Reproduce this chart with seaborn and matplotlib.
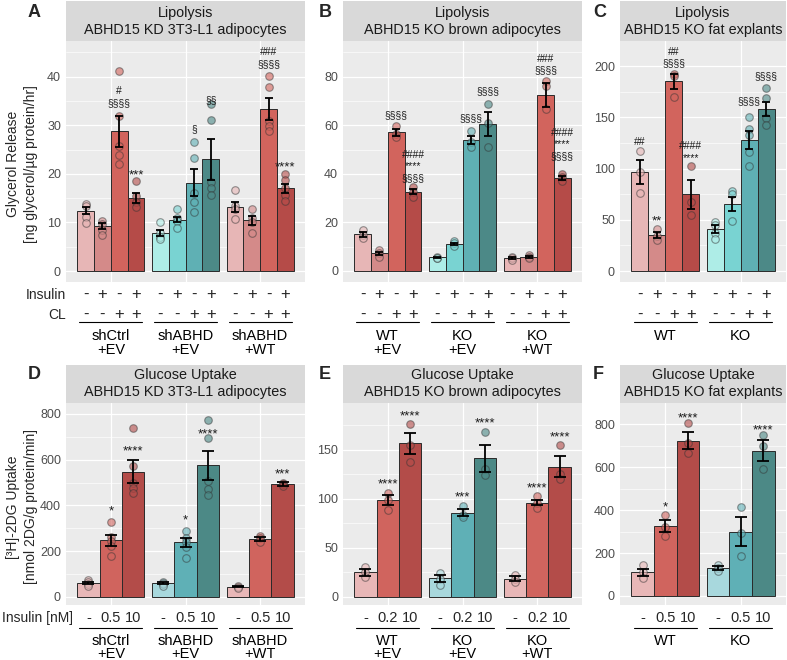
import numpy as np
import pandas as pd
import matplotlib
matplotlib.use("Agg")
import matplotlib.pyplot as plt
import seaborn as sns
from matplotlib.transforms import blended_transform_factory, offset_copy
from matplotlib.lines import Line2D
from matplotlib.ticker import MultipleLocator
from matplotlib.colors import to_rgba

sns.set_style("white")
plt.rcParams['font.family'] = ['Liberation Sans', 'DejaVu Sans']

# ---------------- data ----------------
lip_conds = ["Ins-CL-", "Ins+CL-", "Ins-CL+", "Ins+CL+"]
lip_insulin = ["-", "+", "-", "+"]
lip_cl = ["-", "-", "+", "+"]
glu_conds = ["0", "low", "10"]

A_title = ["Lipolysis", "ABHD15 KD 3T3-L1 adipocytes"]
A_groups = ["shCtrl\n+EV", "shABHD\n+EV", "shABHD\n+WT"]
A_family = ["red", "teal", "red"]
A_mean = [[12.4, 9.3, 28.8, 15.1], [7.8, 10.6, 18.2, 23.0], [13.2, 10.4, 33.3, 17.0]]
A_se = [[0.7, 0.6, 3.2, 1.0], [0.6, 0.6, 2.8, 4.2], [1.1, 0.9, 2.3, 1.0]]
A_pts = [[[13.8, 13.3, 11.2, 9.9], [10.2, 9.6, 8.4, 7.4], [41.2, 32.0, 25.8, 23.8, 22.0], [18.5, 15.4, 14.3, 13.2]],
         [[10.1, 7.9, 7.1, 6.5], [12.7, 10.9, 10.2, 8.8], [26.5, 23.2, 16.0, 14.3, 12.1], [34.4, 31.1, 18.4, 17.0, 15.6]],
         [[16.7, 13.3, 12.8, 10.7], [12.7, 11.0, 10.0, 7.8], [40.2, 37.8, 30.8, 29.8, 28.9], [20.0, 18.7, 17.0, 15.6, 14.4]]]
A_sig = [[None, None, "#\n§§§§", "***"], [None, None, "§", "§§"], [None, None, "###\n§§§§", "****"]]
A_sig_y = [[None, None, 34.6, 20.6], [None, None, 29.2, 35.2], [None, None, 42.6, 22.2]]

B_title = ["Lipolysis", "ABHD15 KO brown adipocytes"]
B_groups = ["WT\n+EV", "KO\n+EV", "KO\n+WT"]
B_family = ["red", "teal", "red"]
B_mean = [[15.1, 7.3, 57.1, 32.7], [5.6, 11.1, 53.9, 60.4], [5.3, 5.8, 72.4, 38.2]]
B_se = [[1.0, 0.6, 1.4, 1.0], [0.3, 0.5, 1.7, 5.0], [0.4, 0.3, 5.0, 0.8]]
B_pts = [[[16.9, 14.8, 13.5], [8.6, 7.3, 5.9], [59.8, 56.5, 55.3], [34.7, 32.7, 30.6]],
         [[5.9, 5.5, 5.2], [12.5, 11.4, 10.3], [57.6, 53.2, 51.1], [68.8, 61.1, 51.2]],
         [[5.8, 5.3, 4.7], [6.6, 5.8, 5.2], [78.2, 76.2, 66.5], [40.0, 38.8, 37.2]]]
B_sig = [[None, None, "§§§§", "####\n****\n§§§§"], [None, None, "§§§§", "§§§§"],
         [None, None, "###\n§§§§", "####\n****\n§§§§"]]
B_sig_y = [[None, None, 64.2, 38.3], [None, None, 63.0, 73.8], [None, None, 82.5, 47.3]]

C_title = ["Lipolysis", "ABHD15 KO fat explants"]
C_groups = ["WT", "KO"]
C_family = ["red", "teal"]
C_mean = [[96.5, 35.1, 185.0, 74.8], [41.0, 65.7, 127.8, 158.3]]
C_se = [[12.0, 3.2, 7.5, 14.3], [3.9, 6.8, 8.4, 6.8]]
C_pts = [[[117, 97, 76], [41, 34.5, 30], [192, 190, 170], [102, 67, 54.6]],
         [[48, 45, 37, 31], [78, 75, 49], [150.5, 139, 133, 116.5, 102.5], [179, 168.5, 149, 142.5]]]
C_sig = [["##", "**", "##\n§§§§", "####\n****"], [None, None, "§§§§", "§§§§"]]
C_sig_y = [[126.8, 53.0, 202.6, 113.2], [None, None, 165.2, 190.2]]

D_title = ["Glucose Uptake", "ABHD15 KD 3T3-L1 adipocytes"]
D_groups = ["shCtrl\n+EV", "shABHD\n+EV", "shABHD\n+WT"]
D_family = ["red", "teal", "red"]
D_dose = ["-", "0.5", "10"]
D_mean = [[62, 247, 548], [60, 240, 575], [45, 255, 493]]
D_se = [[5, 24, 51], [4, 20, 65], [3, 9, 9]]
D_pts = [[[75, 66, 58, 48], [329, 262, 245, 222, 178], [737, 572, 500, 475, 455]],
         [[66, 60, 55, 48], [288, 258, 240, 220, 172], [774, 694, 505, 470, 448]],
         [[50, 45, 40], [265, 258, 242], [500, 493, 486]]]
D_sig = [[None, "*", "****"], [None, "*", "****"], [None, None, "***"]]
D_sig_y = [[None, 394.7, 655.6], [None, 354.0, 730.0], [None, None, 555.0]]

E_title = ["Glucose Uptake", "ABHD15 KO brown adipocytes"]
E_groups = ["WT\n+EV", "KO\n+EV", "KO\n+WT"]
E_family = ["red", "teal", "red"]
E_dose = ["-", "0.2", "10"]
E_mean = [[25, 98.9, 156.8], [18.8, 85.9, 141.5], [18.5, 96.1, 132.9]]
E_se = [[3.4, 5, 11], [3.8, 3.7, 14], [2.5, 2.8, 11]]
E_pts = [[[30.5, 25, 20.5], [106, 99, 89], [177, 155, 138]],
         [[24, 18, 12], [93, 84, 81], [168.5, 131, 124]],
         [[22, 18, 15], [103, 96, 91], [155, 125, 120]]]
E_sig = [[None, "****", "****"], [None, "***", "****"], [None, "****", "****"]]
E_sig_y = [[None, 120.0, 189.2], [None, 106.3, 181.7], [None, 115.2, 167.4]]

F_title = ["Glucose Uptake", "ABHD15 KO fat explants"]
F_groups = ["WT", "KO"]
F_family = ["red", "teal"]
F_dose = ["-", "0.5", "10"]
F_mean = [[110, 326, 724], [129, 300, 677]]
F_se = [[18, 27, 39], [10, 66, 50]]
F_pts = [[[144, 110, 82], [377, 322, 278], [805, 711, 665]],
         [[146, 130, 115], [416, 295, 186], [750, 699, 590]]]
F_sig = [[None, "*", "****"], [None, None, "****"]]
F_sig_y = [[None, 434.8, 848.0], [None, None, 792.0]]

PAL4 = {"red": ["#E7B6B6", "#D48A89", "#D2645D", "#B54B48"],
        "teal": ["#AEEDE7", "#79D3D2", "#5FB0B4", "#4C8987"]}
PAL3 = {"red": ["#E8B7B7", "#D0645E", "#B34C49"],
        "teal": ["#A8D8DD", "#5FB0B6", "#4C8986"]}

# ---------------- layout ----------------
W, H = 787, 660
fig = plt.figure(figsize=(W / 100, H / 100), dpi=100)


def fy(py):
    return 1 - py / H


def glyph_mid(line):
    if line.startswith("*"):
        return 0.58
    if line.startswith("#"):
        return 0.36
    return 0.27


def sig_text(ax, cx, yc, label):
    """Significance label; yc = visual centre of the lowest line (data units)."""
    last = label.split("\n")[-1]
    if "\n" in label:
        fs = 7.5
    else:
        fs = 9.5 if last.startswith("*") else 7.5
    tr = offset_copy(ax.transData, fig=fig, x=0, y=-glyph_mid(last) * fs, units="points")
    ax.text(cx, yc, label, transform=tr, ha="center", va="baseline", fontsize=fs,
            color="#1A1A1A", zorder=5, linespacing=1.2, multialignment="center")


def draw_panel(xr, yr, strip, title, title_base, groups, family, conds, means, ses, pts,
               sigs, sig_y, ylim, major, minor, pal, capsize):
    x0, x1 = xr
    y0, y1 = yr
    ax = fig.add_axes([x0 / W, fy(y1), (x1 - x0) / W, (y1 - y0) / H])
    ax.set_facecolor("#EBEBEB")
    n = len(conds)
    df = pd.DataFrame({"group": np.repeat(groups, n),
                       "cond": conds * len(groups),
                       "value": np.ravel(means)})
    sns.barplot(data=df, x="group", y="value", hue="cond", order=groups, hue_order=conds,
                width=0.9, errorbar=None, legend=False, saturation=1,
                edgecolor="#2A2A2A", linewidth=0.7, ax=ax, zorder=2)
    bw = 0.9 / n
    centers = {}
    for p in ax.patches:
        cx = p.get_x() + p.get_width() / 2
        gi = int(np.floor(cx + 0.5))
        ci = int(round((cx - gi) / bw + (n - 1) / 2))
        p.set_facecolor(pal[family[gi]][ci])
        centers[(gi, ci)] = cx
    ax.set_xlim(-0.6, len(groups) - 0.4)
    ax.set_ylim(*ylim)
    for (gi, ci), cx in centers.items():
        col = pal[family[gi]][ci]
        yv = pts[gi][ci]
        ax.scatter([cx] * len(yv), yv, s=30, facecolor=to_rgba(col, 0.6),
                   edgecolor=to_rgba("#333333", 0.5), linewidth=0.8, zorder=3)
        ax.errorbar(cx, means[gi][ci], yerr=ses[gi][ci], fmt="none", ecolor="black",
                    elinewidth=1.3, capsize=capsize, capthick=1.3, zorder=4)
        if sigs[gi][ci]:
            sig_text(ax, cx, sig_y[gi][ci], sigs[gi][ci])
    ax.set_xlim(-0.6, len(groups) - 0.4)
    ax.set_ylim(*ylim)
    ax.set_xticks(range(len(groups)))
    ax.set_xticklabels([])
    ax.yaxis.set_major_locator(MultipleLocator(major))
    ax.yaxis.set_minor_locator(MultipleLocator(minor))
    ax.set_axisbelow(True)
    ax.grid(True, which="major", color="white", lw=0.9)
    ax.grid(True, which="minor", axis="y", color="white", lw=0.45)
    ax.tick_params(axis="both", which="major", length=2.7, width=0.7, color="#333333",
                   labelsize=9, labelcolor="#4D4D4D", pad=0.9)
    ax.tick_params(axis="y", which="minor", length=0)
    for s in ax.spines.values():
        s.set_visible(False)
    ax.set_xlabel("")
    ax.set_ylabel("")
    # strip
    sx = fig.add_axes([x0 / W, fy(strip[1]), (x1 - x0) / W, (strip[1] - strip[0]) / H])
    sx.set_facecolor("#D9D9D9")
    sx.set_xticks([])
    sx.set_yticks([])
    for s in sx.spines.values():
        s.set_visible(False)
    for txt, b in zip(title, title_base):
        fig.text((x0 + x1) / 2 / W, fy(b), txt, ha="center", va="baseline",
                 fontsize=10.4, color="#1A1A1A")
    return ax, centers


def group_labels(ax, groups, line_y, label_base):
    tr = blended_transform_factory(ax.transData, fig.transFigure)
    for gi, g in enumerate(groups):
        fig.add_artist(Line2D([gi - 0.42, gi + 0.42], [fy(line_y)] * 2, transform=tr,
                              color="black", lw=0.8))
        for line, b in zip(g.split("\n"), label_base):
            ax.text(gi, fy(b), line, transform=tr, ha="center", va="baseline",
                    fontsize=10.5, color="black", clip_on=False)


def lip_rows(ax, centers):
    tr = blended_transform_factory(ax.transData, fig.transFigure)
    for (gi, ci), cx in centers.items():
        ax.text(cx, fy(299), lip_insulin[ci], transform=tr, ha="center", va="baseline",
                fontsize=12, clip_on=False)
        ax.text(cx, fy(318.5), lip_cl[ci], transform=tr, ha="center", va="baseline",
                fontsize=12, clip_on=False)


def dose_row(ax, centers, dose):
    tr = blended_transform_factory(ax.transData, fig.transFigure)
    for (gi, ci), cx in centers.items():
        ax.text(cx, fy(621.7), dose[ci], transform=tr, ha="center", va="baseline",
                fontsize=10.5, clip_on=False)


TOP = (41, 282)
TOP_STRIP = (1, 41)
TOP_TB = (16.7, 34.3)
BOT = (403, 605)
BOT_STRIP = (365, 403)
BOT_TB = (379.3, 396)
XA, XB, XC = (66, 305), (343, 582), (620, 786)

axA, cA = draw_panel(XA, TOP, TOP_STRIP, A_title, TOP_TB, A_groups, A_family, lip_conds,
                     A_mean, A_se, A_pts, A_sig, A_sig_y, (-2.26, 47.35), 10, 5, PAL4, 3.0)
axB, cB = draw_panel(XB, TOP, TOP_STRIP, B_title, TOP_TB, B_groups, B_family, lip_conds,
                     B_mean, B_se, B_pts, B_sig, B_sig_y, (-4.53, 94.7), 20, 10, PAL4, 3.0)
axC, cC = draw_panel(XC, TOP, TOP_STRIP, C_title, TOP_TB, C_groups, C_family, lip_conds,
                     C_mean, C_se, C_pts, C_sig, C_sig_y, (-10.7, 224.4), 50, 25, PAL4, 3.0)
axD, cD = draw_panel(XA, BOT, BOT_STRIP, D_title, BOT_TB, D_groups, D_family, glu_conds,
                     D_mean, D_se, D_pts, D_sig, D_sig_y, (-35, 848), 200, 100, PAL3, 4.0)
axE, cE = draw_panel(XB, BOT, BOT_STRIP, E_title, BOT_TB, E_groups, E_family, glu_conds,
                     E_mean, E_se, E_pts, E_sig, E_sig_y, (-8.5, 198), 50, 25, PAL3, 4.0)
axF, cF = draw_panel(XC, BOT, BOT_STRIP, F_title, BOT_TB, F_groups, F_family, glu_conds,
                     F_mean, F_se, F_pts, F_sig, F_sig_y, (-42, 899), 200, 100, PAL3, 4.0)

for ax, c, g in [(axA, cA, A_groups), (axB, cB, B_groups), (axC, cC, C_groups)]:
    lip_rows(ax, c)
    group_labels(ax, g, 322, (340, 353.5))
for ax, c, g, d in [(axD, cD, D_groups, D_dose), (axE, cE, E_groups, E_dose), (axF, cF, F_groups, F_dose)]:
    dose_row(ax, c, d)
    group_labels(ax, g, 628.3, (645, 658.5))

fig.text(66 / W, fy(299), "Insulin", ha="right", va="baseline", fontsize=10)
fig.text(66 / W, fy(318.5), "CL", ha="right", va="baseline", fontsize=10)
fig.text(73 / W, fy(621.7), "Insulin [nM]", ha="right", va="baseline", fontsize=10)

# y labels
fig.text(13 / W, fy(164), "Glycerol Release", rotation=90, ha="center", va="center", fontsize=10)
fig.text(31 / W, fy(164), "[ng glycerol/µg protein/hr]", rotation=90, ha="center", va="center", fontsize=10)
fig.text(13 / W, fy(507), "[³H]-2DG Uptake", rotation=90, ha="center", va="center", fontsize=10)
fig.text(31 / W, fy(507), "[nmol 2DG/g protein/min]", rotation=90, ha="center", va="center", fontsize=10)

# panel letters
for letter, x, b in [("A", 28, 17.3), ("B", 319, 17.3), ("C", 593, 17.3),
                     ("D", 28, 379.3), ("E", 319, 379.3), ("F", 593, 379.3)]:
    fig.text(x / W, fy(b), letter, ha="left", va="baseline", fontsize=13, fontweight="bold")

fig.savefig("out.png", dpi=100)
